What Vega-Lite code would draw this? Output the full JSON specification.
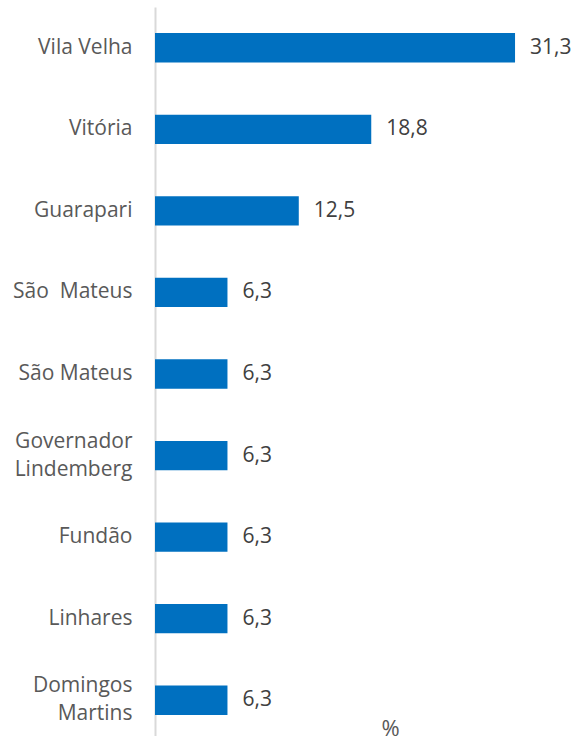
{
  "$schema": "https://vega.github.io/schema/vega-lite/v6.json",
  "autosize": "none",
  "width": 421,
  "height": 734,
  "padding": {"left": 155, "top": 7, "right": 0, "bottom": 0},
  "background": "white",
  "config": {
    "view": {"stroke": null},
    "font": "Open Sans",
    "locale": {
      "number": {"decimal": ",", "thousands": ".", "grouping": [3], "currency": ["R$", ""]}
    }
  },
  "data": {
    "values": [
      {"municipio": "Vila Velha", "pct": 31.3},
      {"municipio": "Vitória", "pct": 18.8},
      {"municipio": "Guarapari", "pct": 12.5},
      {"municipio": "São  Mateus", "pct": 6.3},
      {"municipio": "São Mateus", "pct": 6.3},
      {"municipio": "Governador Lindemberg", "pct": 6.3},
      {"municipio": "Fundão", "pct": 6.3},
      {"municipio": "Linhares", "pct": 6.3},
      {"municipio": "Domingos Martins", "pct": 6.3}
    ]
  },
  "encoding": {
    "y": {
      "field": "municipio",
      "type": "nominal",
      "sort": null,
      "scale": {"paddingInner": 0.64, "paddingOuter": 0.32},
      "axis": {
        "title": null,
        "ticks": false,
        "domain": true,
        "domainColor": "#D9D9D9",
        "domainWidth": 2,
        "labelFont": "Open Sans",
        "labelFontSize": 21,
        "labelColor": "#595959",
        "labelPadding": 23,
        "labelLineHeight": 28,
        "labelLimit": 200,
        "labelOffset": {"condition": {"test": "length(datum.value) > 12", "value": -14}, "value": 0},
        "labelExpr": "length(datum.value) > 12 ? split(datum.value, ' ') : replace(datum.value, '  ', '\u00a0 ')"
      }
    },
    "x": {
      "field": "pct",
      "type": "quantitative",
      "scale": {"domain": [0, 36.6], "nice": false},
      "axis": {
        "title": "%",
        "titleFont": "Open Sans",
        "titleFontSize": 22,
        "titleFontWeight": "normal",
        "titleColor": "#595959",
        "titleX": 235,
        "titleY": -13,
        "titleBaseline": "middle",
        "labels": false,
        "ticks": false,
        "domain": false,
        "grid": false
      }
    }
  },
  "layer": [
    {"mark": {"type": "bar", "color": "#0070C0"}},
    {
      "mark": {"type": "text", "align": "left", "baseline": "middle", "dx": 15, "font": "Open Sans", "fontSize": 21, "color": "#404040"},
      "encoding": {"text": {"field": "pct", "type": "quantitative", "format": ".1f"}}
    }
  ]
}
